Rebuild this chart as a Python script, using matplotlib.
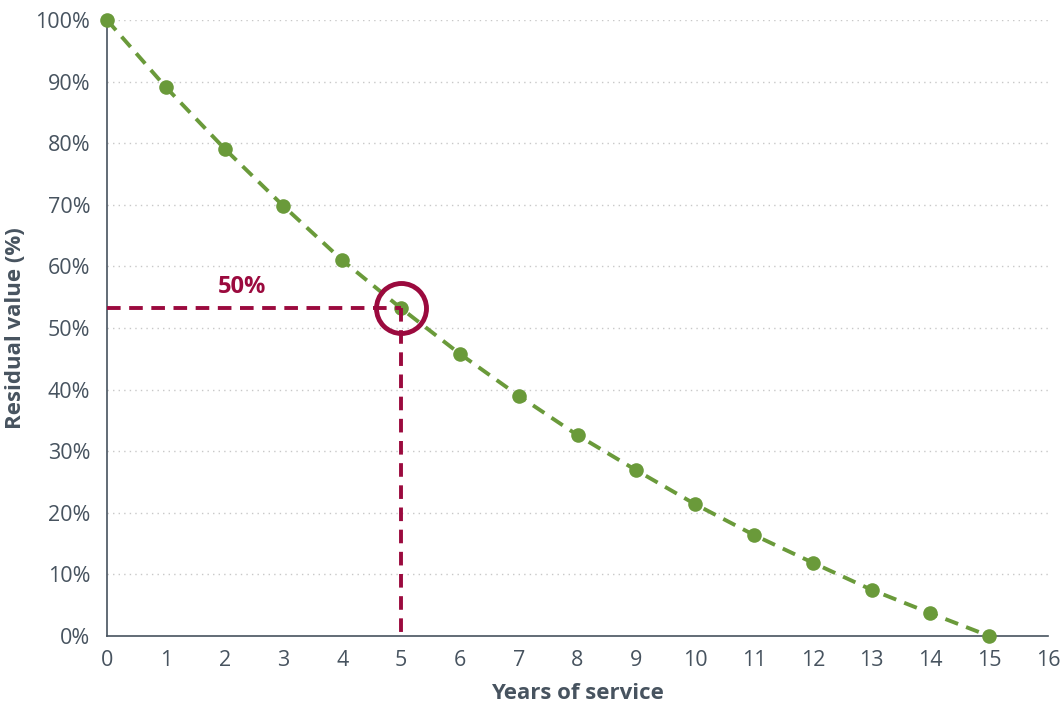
import matplotlib
matplotlib.use("Agg")
import matplotlib.pyplot as plt
from matplotlib.ticker import FuncFormatter

years = [0, 1, 2, 3, 4, 5, 6, 7, 8, 9, 10, 11, 12, 13, 14, 15]
residual = [100, 89.1, 79.1, 69.8, 61.0, 53.2, 45.8, 39.0, 32.6, 26.9, 21.4, 16.4, 11.9, 7.5, 3.7, 0]
highlight_year = 5
highlight_value = 53.2
highlight_label = "50%"
x_ticks = list(range(0, 17))
y_ticks = list(range(0, 101, 10))

plt.rcParams['font.family'] = ['Open Sans', 'DejaVu Sans']
green = "#6a9a3a"
red = "#9b0a3e"
gray = "#47535f"

fig = plt.figure(figsize=(10.61, 7.06), dpi=100)
ax = fig.add_axes([107/1061, 1-636/706, (1048-107)/1061, (636-20)/706])

for yv in y_ticks[1:]:
    ax.axhline(yv, color="#c8c8c8", lw=1, ls=(0, (1, 3)), zorder=0)

ax.plot(years, residual, color=green, lw=2.8, ls=(0, (3.5, 2.2)), marker="o",
        markersize=10.5, markeredgewidth=0, zorder=3, clip_on=False)

ax.plot([0, highlight_year], [highlight_value, highlight_value], color=red, lw=2.8,
        ls=(0, (3.5, 2.2)), zorder=4, clip_on=False)
ax.plot([highlight_year, highlight_year], [highlight_value, 0], color=red, lw=2.8,
        ls=(0, (3.5, 2.2)), zorder=4, clip_on=False)
ax.plot([highlight_year], [highlight_value], marker="o", markersize=36, markerfacecolor="none",
        markeredgecolor=red, markeredgewidth=3.5, zorder=5, clip_on=False)
ax.text(2.3, 56.6, highlight_label, color=red, fontsize=17, fontweight="bold",
        ha="center", va="center")

ax.set_xlim(0, 16)
ax.set_ylim(0, 100)
ax.set_xticks(x_ticks)
ax.set_yticks(y_ticks)
ax.yaxis.set_major_formatter(FuncFormatter(lambda v, p: f"{int(v)}%"))
ax.tick_params(length=0, labelsize=15.5, colors=gray)
ax.tick_params(axis="y", pad=12)
ax.tick_params(axis="x", pad=10)
for s in ["top", "right"]:
    ax.spines[s].set_visible(False)
for s in ["left", "bottom"]:
    ax.spines[s].set_color(gray)
    ax.spines[s].set_linewidth(1.2)

ax.set_xlabel("Years of service", fontsize=16, fontweight="bold", color=gray, labelpad=9)
ax.set_ylabel("Residual value (%)", fontsize=16, fontweight="bold", color=gray, labelpad=7)

fig.savefig("out.png", dpi=100)
